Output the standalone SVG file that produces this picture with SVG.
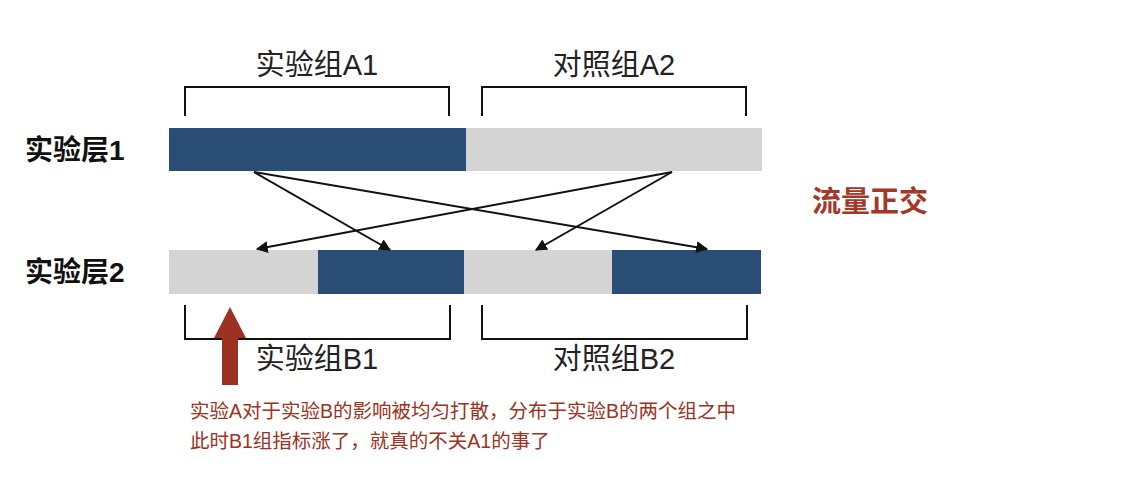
<svg xmlns="http://www.w3.org/2000/svg" width="1140" height="497" viewBox="0 0 1140 497">
<defs>
<style>
.t{font-family:"Liberation Sans","Noto Sans CJK SC",sans-serif}
.lab{font-size:29px;fill:#222;text-anchor:middle}
.layer{font-size:28px;font-weight:bold;fill:#111}
.dark{fill:#294d75}
.light{fill:#d4d4d4}
.br{fill:none;stroke:#111;stroke-width:2}
.ar{stroke:#111;stroke-width:2;fill:none;marker-end:url(#ah)}
.note{font-size:19.5px;fill:#9b3222}
</style>
<marker id="ah" viewBox="0 0 10 10" refX="9" refY="5" markerWidth="6" markerHeight="6" orient="auto"><path d="M0,0 L10,5 L0,10 z" fill="#111"/></marker>
</defs>
<rect width="1140" height="497" fill="#fff"/>
<g id="layer1">
<rect class="dark" x="169" y="128" width="297" height="43"/>
<rect class="light" x="466" y="128" width="296" height="43"/>
<text class="t layer" x="25" y="160">实验层1</text>
</g>
<g id="layer2">
<rect class="light" x="169" y="250" width="149" height="44"/>
<rect class="dark" x="318" y="250" width="146" height="44"/>
<rect class="light" x="464" y="250" width="148" height="44"/>
<rect class="dark" x="612" y="250" width="149" height="44"/>
<text class="t layer" x="25" y="282">实验层2</text>
</g>
<g id="groupA1"><path class="br" d="M185,116 V87 H449 V116"/><text class="t lab" x="317" y="75">实验组A1</text></g>
<g id="groupA2"><path class="br" d="M482,116 V87 H746 V116"/><text class="t lab" x="614" y="75">对照组A2</text></g>
<g id="groupB1"><path class="br" d="M185,305 V339 H450 V305"/><text class="t lab" x="317" y="369">实验组B1</text></g>
<g id="groupB2"><path class="br" d="M482,305 V339 H747 V305"/><text class="t lab" x="614" y="369">对照组B2</text></g>
<g id="connectors">
<line class="ar" x1="254" y1="172" x2="390" y2="250"/>
<line class="ar" x1="254" y1="172" x2="707" y2="249"/>
<line class="ar" x1="672" y1="172" x2="257" y2="249"/>
<line class="ar" x1="672" y1="172" x2="536" y2="250"/>
</g>
<g id="redArrow"><path d="M222,385 V338 H214 L230,307 L246,338 H238 V385 z" fill="#9b3222"/></g>
<g id="label"><text class="t" x="812" y="212" font-size="29" font-weight="bold" fill="#a3382a">流量正交</text></g>
<g id="note">
<text class="t note" x="190" y="418">实验A对于实验B的影响被均匀打散，分布于实验B的两个组之中</text>
<text class="t note" x="190" y="448">此时B1组指标涨了，就真的不关A1的事了</text>
</g>
</svg>
